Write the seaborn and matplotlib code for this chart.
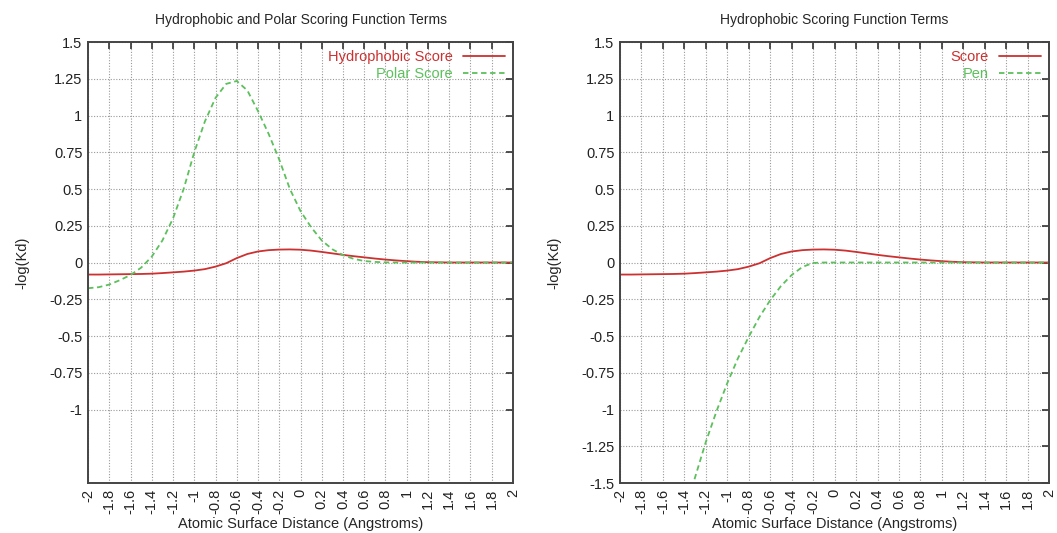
import numpy as np
import pandas as pd
import seaborn as sns
import matplotlib.pyplot as plt

# distance grid (Angstroms)
distance = [-2.0, -1.9, -1.8, -1.7, -1.6, -1.5, -1.4, -1.3, -1.2, -1.1,
            -1.0, -0.9, -0.8, -0.7, -0.6, -0.5, -0.4, -0.3, -0.2, -0.1,
            0.0, 0.1, 0.2, 0.3, 0.4, 0.5, 0.6, 0.7, 0.8, 0.9,
            1.0, 1.1, 1.2, 1.3, 1.4, 1.5, 1.6, 1.7, 1.8, 1.9, 2.0]

hydrophobic_score = [-0.082, -0.082, -0.081, -0.080, -0.079, -0.078, -0.076, -0.072, -0.067, -0.062,
                     -0.055, -0.045, -0.028, -0.005, 0.030, 0.058, 0.075, 0.084, 0.088, 0.089,
                     0.087, 0.081, 0.072, 0.062, 0.052, 0.043, 0.035, 0.027, 0.020, 0.014,
                     0.009, 0.005, 0.002, 0.001, 0.0, 0.0, 0.0, 0.0, 0.0, 0.0, 0.0]

polar_score = [-0.175, -0.168, -0.150, -0.120, -0.085, -0.035, 0.040, 0.150, 0.300, 0.500,
               0.750, 0.960, 1.120, 1.215, 1.235, 1.170, 1.030, 0.875, 0.700, 0.500,
               0.350, 0.240, 0.150, 0.090, 0.050, 0.025, 0.010, 0.004, 0.001, 0.0,
               0.0, 0.0, 0.0, 0.0, 0.0, 0.0, 0.0, 0.0, 0.0, 0.0, 0.0]

# penalty term, runs off the bottom of the axis left of -1.3
pen_distance = distance[6:]
pen = [-1.71, -1.46, -1.22, -1.01,
       -0.82, -0.65, -0.505, -0.37, -0.256, -0.16, -0.085, -0.03, -0.003, 0.0,
       0.0, 0.0, 0.0, 0.0, 0.0, 0.0, 0.0, 0.0, 0.0, 0.0,
       0.0, 0.0, 0.0, 0.0, 0.0, 0.0, 0.0, 0.0, 0.0, 0.0, 0.0]

x_ticks = np.round(np.arange(-2, 2.01, 0.2), 1) + 0.0
y_ticks_left = [1.5, 1.25, 1, 0.75, 0.5, 0.25, 0, -0.25, -0.5, -0.75, -1]
y_ticks_right = [1.5, 1.25, 1, 0.75, 0.5, 0.25, 0, -0.25, -0.5, -0.75, -1, -1.25, -1.5]

RED = '#cc3030'
GREEN = '#5cc05c'

sns.set_style("white")
plt.rcParams['font.family'] = ['Liberation Sans', 'DejaVu Sans']


def fmt(v):
    if abs(v) < 1e-9:
        return "0"
    return f"{v:g}"


def style_axes(ax, title, yticks):
    ax.set_xlim(-2, 2)
    ax.set_ylim(-1.5, 1.5)
    ax.set_xticks(x_ticks)
    ax.set_xticklabels([fmt(v) for v in x_ticks], rotation=90, fontsize=10.5)
    ax.set_yticks(yticks)
    ax.set_yticklabels([fmt(v) for v in yticks], fontsize=10.5)
    ax.tick_params(direction='in', length=5, width=1.2, top=True, right=True,
                   colors='#333333', labelcolor='#222222', pad=4)
    ax.grid(True, linestyle=(0, (1, 1.5)), linewidth=0.8, color='#999999')
    for s in ax.spines.values():
        s.set_color('#444444')
        s.set_linewidth(1.4)
    ax.set_title(title, fontsize=10, pad=13)
    ax.set_xlabel('Atomic Surface Distance (Angstroms)', fontsize=10.5, labelpad=2)
    ax.set_ylabel('-log(Kd)', fontsize=10.5, labelpad=14)
    ax.legend(loc='upper right', frameon=False, markerfirst=False,
              labelcolor='linecolor', fontsize=10.5, handlelength=2.9,
              handletextpad=0.7, labelspacing=0.2, borderaxespad=0.15)


fig = plt.figure(figsize=(10.57, 5.33), dpi=100)
ax1 = fig.add_axes([0.0833, 0.0938, 0.402, 0.8274])
ax2 = fig.add_axes([0.5866, 0.0938, 0.406, 0.8274])

left = pd.DataFrame({'x': distance, 'hyd': hydrophobic_score, 'pol': polar_score})
sns.lineplot(data=left, x='x', y='hyd', ax=ax1, color=RED, linewidth=1.3,
             label='Hydrophobic Score')
sns.lineplot(data=left, x='x', y='pol', ax=ax1, color=GREEN, linewidth=1.3,
             linestyle=(0, (3, 2)), label='Polar Score')
style_axes(ax1, 'Hydrophobic and Polar Scoring Function Terms', y_ticks_left)

pen_df = pd.DataFrame({'x': pen_distance, 'pen': pen})
sns.lineplot(data=left, x='x', y='hyd', ax=ax2, color=RED, linewidth=1.3, label='Score')
sns.lineplot(data=pen_df, x='x', y='pen', ax=ax2, color=GREEN, linewidth=1.3,
             linestyle=(0, (3, 2)), label='Pen')
style_axes(ax2, 'Hydrophobic Scoring Function Terms', y_ticks_right)

plt.savefig('out.png', dpi=100)
